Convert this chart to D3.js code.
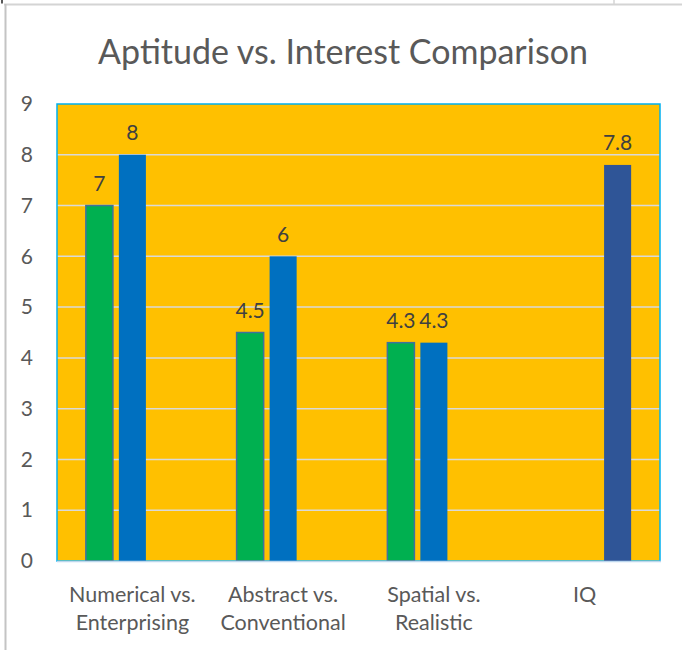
<!DOCTYPE html>
<html>
<head>
<meta charset="utf-8">
<script src="https://cdn.jsdelivr.net/npm/d3@7"></script>
<style>
  html, body { margin: 0; padding: 0; background: #fff; }
  svg { display: block; }
  text { font-family: Lato, "Open Sans", sans-serif; }
</style>
</head>
<body>
<svg id="chart" width="682" height="650"></svg>
<script>
const title = "Aptitude vs. Interest Comparison";
const categories = ["Numerical vs.\nEnterprising", "Abstract vs.\nConventional", "Spatial vs.\nRealistic", "IQ"];
const seriesNames = ["Aptitude", "Interest", "IQ"];
const aptitudeValues = [7, 4.5, 4.3, null];
const interestValues = [8, 6, 4.3, null];
const iqValues = [null, null, null, 7.8];
const yTicks = [0, 1, 2, 3, 4, 5, 6, 7, 8, 9];
const colors = ["#00B050", "#0070C0", "#2F5597"];

const svg = d3.select("#chart");
const W = 682, H = 650;
const plot = { left: 57, right: 660, top: 104, bottom: 561 };

// sheet-like frame
svg.append("line").attr("x1", 4).attr("x2", W).attr("y1", 4.5).attr("y2", 4.5)
  .attr("stroke", "#D4D4D4").attr("stroke-width", 2);
svg.append("line").attr("x1", 5.5).attr("x2", 5.5).attr("y1", 4).attr("y2", H)
  .attr("stroke", "#C4C4C4").attr("stroke-width", 2);
svg.append("line").attr("x1", 2).attr("x2", 2).attr("y1", 0).attr("y2", 3.5)
  .attr("stroke", "#222").attr("stroke-width", 1.5);
svg.append("line").attr("x1", 614).attr("x2", 614).attr("y1", 0).attr("y2", 4)
  .attr("stroke", "#D4D4D4").attr("stroke-width", 1.5);

svg.append("text").attr("x", 343).attr("y", 64).attr("text-anchor", "middle")
  .attr("fill", "#595959").attr("font-size", 34).text(title);

const y = d3.scaleLinear().domain([0, 9]).range([plot.bottom, plot.top]);
const x0 = d3.scaleBand().domain(categories).range([plot.left, plot.right]).paddingInner(0).paddingOuter(0);
const x1 = d3.scaleBand().domain(seriesNames).range([0, x0.bandwidth()]).paddingInner(0.18).paddingOuter(0.875);

// plot background
svg.append("rect").attr("x", plot.left).attr("y", plot.top)
  .attr("width", plot.right - plot.left).attr("height", plot.bottom - plot.top)
  .attr("fill", "#FFC000");

// gridlines
svg.append("g").selectAll("line").data(yTicks.filter(d => d > 0 && d < 9)).join("line")
  .attr("x1", plot.left).attr("x2", plot.right)
  .attr("y1", d => y(d)).attr("y2", d => y(d))
  .attr("stroke", "#D9D9D9").attr("stroke-width", 1.5);

// border
svg.append("rect").attr("x", plot.left).attr("y", plot.top)
  .attr("width", plot.right - plot.left).attr("height", plot.bottom - plot.top)
  .attr("fill", "none").attr("stroke", "#00B0F0").attr("stroke-width", 1.5);

// y axis labels
const yAxis = d3.axisLeft(y).tickValues(yTicks).tickSize(0).tickPadding(24);
const ya = svg.append("g").attr("transform", `translate(${plot.left},0)`).call(yAxis);
ya.select(".domain").remove();
ya.selectAll("text").attr("font-size", 21).attr("fill", "#595959")
  .attr("font-family", "Lato, sans-serif");

// bars
const rows = categories.map((c, i) => ({ cat: c, vals: [aptitudeValues[i], interestValues[i], iqValues[i]] }));
const groups = svg.append("g").selectAll("g").data(rows).join("g")
  .attr("transform", d => `translate(${x0(d.cat)},0)`);
const barData = d => d.vals.map((v, k) => ({ v, s: seriesNames[k], k })).filter(e => e.v != null);
groups.selectAll("rect").data(barData).join("rect")
  .attr("x", e => x1(e.s)).attr("width", x1.bandwidth())
  .attr("y", e => y(e.v)).attr("height", e => y(0) - y(e.v))
  .attr("fill", e => colors[e.k])
  .attr("stroke", e => e.k === 0 ? "#41719C" : "none").attr("stroke-width", 1.5);
groups.selectAll("text.val").data(barData).join("text").attr("class", "val")
  .attr("x", e => x1(e.s) + x1.bandwidth() / 2).attr("y", e => y(e.v) - 14.5)
  .attr("text-anchor", "middle").attr("fill", "#404040").attr("font-size", 21)
  .text(e => e.v);

// bottom axis line
svg.append("line").attr("x1", plot.left).attr("x2", plot.right + 1)
  .attr("y1", plot.bottom + 0.5).attr("y2", plot.bottom + 0.5)
  .attr("stroke", "#BDD7EE").attr("stroke-width", 1.5);

// category labels
const xl = svg.append("g").selectAll("text").data(categories).join("text")
  .attr("text-anchor", "middle").attr("fill", "#595959").attr("font-size", 21.5)
  .attr("x", d => x0(d) + x0.bandwidth() / 2).attr("y", 602);
xl.selectAll("tspan").data(d => d.split("\n")).join("tspan")
  .attr("x", function() { return d3.select(this.parentNode).attr("x"); })
  .attr("dy", (d, i) => i === 0 ? 0 : 28).text(d => d);
</script>
</body>
</html>
